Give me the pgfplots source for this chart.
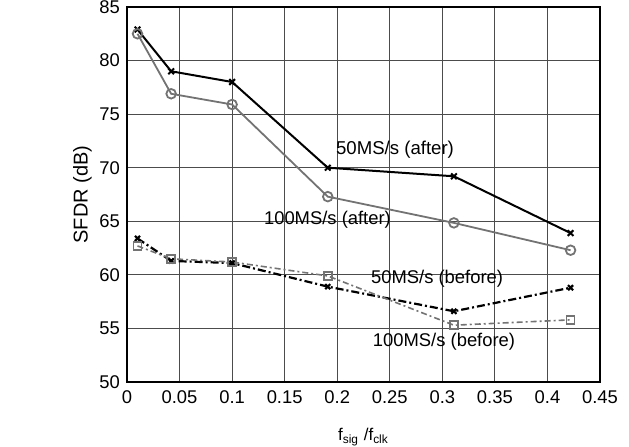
\documentclass[border=0pt]{standalone}
\usepackage{pgfplots}
\pgfplotsset{compat=1.18}
\usepackage{fontspec}
\setmainfont{Liberation Sans}
\begin{document}
\begin{tikzpicture}
\begin{axis}[
    name=ax,
    scale only axis,
    width=236.5pt, height=187.5pt,
    xmin=0, xmax=0.45, ymin=50, ymax=85,
    xtick={0,0.05,0.1,0.15,0.2,0.25,0.3,0.35,0.4,0.45},
    xticklabels={0,0.05,0.1,0.15,0.2,0.25,0.3,0.35,0.4,0.45},
    ytick={50,55,...,85},
    major tick length=0pt,
    grid=major,
    grid style={black!70, line width=0.45pt},
    axis line style={black, line width=0.6pt},
    tick label style={font=\fontsize{9.2}{10}\selectfont},
    xticklabel style={yshift=-1pt},
    /pgf/number format/assume math mode=true,
    xlabel={f\textsubscript{sig} /f\textsubscript{clk}},
    ylabel={SFDR (dB)},
    xlabel style={font=\fontsize{8.5}{10}\selectfont, yshift=-5pt},
    ylabel style={font=\fontsize{10}{11}\selectfont, yshift=-3pt},
    clip=false,
]
\addplot[black, line width=1pt, mark=x, mark size=2pt] coordinates {
    (0.01,82.9) (0.042,79.0) (0.1,78.0) (0.191,70.0) (0.311,69.2) (0.422,63.9)
};
\addplot[black!55, line width=0.9pt, mark=o, mark size=2.4pt,
    mark options={line width=0.9pt}] coordinates {
    (0.01,82.5) (0.042,76.9) (0.1,75.9) (0.191,67.3) (0.311,64.85) (0.422,62.3)
};
\addplot[black, line width=1.1pt, dash pattern=on 4pt off 1.5pt on 1pt off 1.5pt,
    mark=x, mark size=1.8pt, mark options={solid}] coordinates {
    (0.01,63.4) (0.042,61.3) (0.1,61.1) (0.191,58.9) (0.311,56.6) (0.422,58.8)
};
\addplot[black!55, line width=0.8pt, dash pattern=on 3pt off 1.5pt on 1pt off 1.5pt,
    mark=square, mark size=2pt, mark options={solid, line width=0.8pt}] coordinates {
    (0.01,62.7) (0.042,61.5) (0.1,61.2) (0.191,59.9) (0.311,55.3) (0.422,55.8)
};
\node[font=\fontsize{9.3}{10}\selectfont] at (axis cs:0.255,71.65) {50MS/s (after)};
\node[font=\fontsize{9.2}{10}\selectfont] at (axis cs:0.1907,65.12) {100MS/s (after)};
\node[font=\fontsize{9.2}{10}\selectfont] at (axis cs:0.295,59.68) {50MS/s (before)};
\node[font=\fontsize{9.2}{10}\selectfont] at (axis cs:0.3016,53.76) {100MS/s (before)};
\end{axis}
\pgfresetboundingbox
\path ([shift={(-63.5pt,-32.5pt)}]ax.south west) rectangle ([shift={(14.5pt,3.5pt)}]ax.north east);
\end{tikzpicture}
\end{document}
